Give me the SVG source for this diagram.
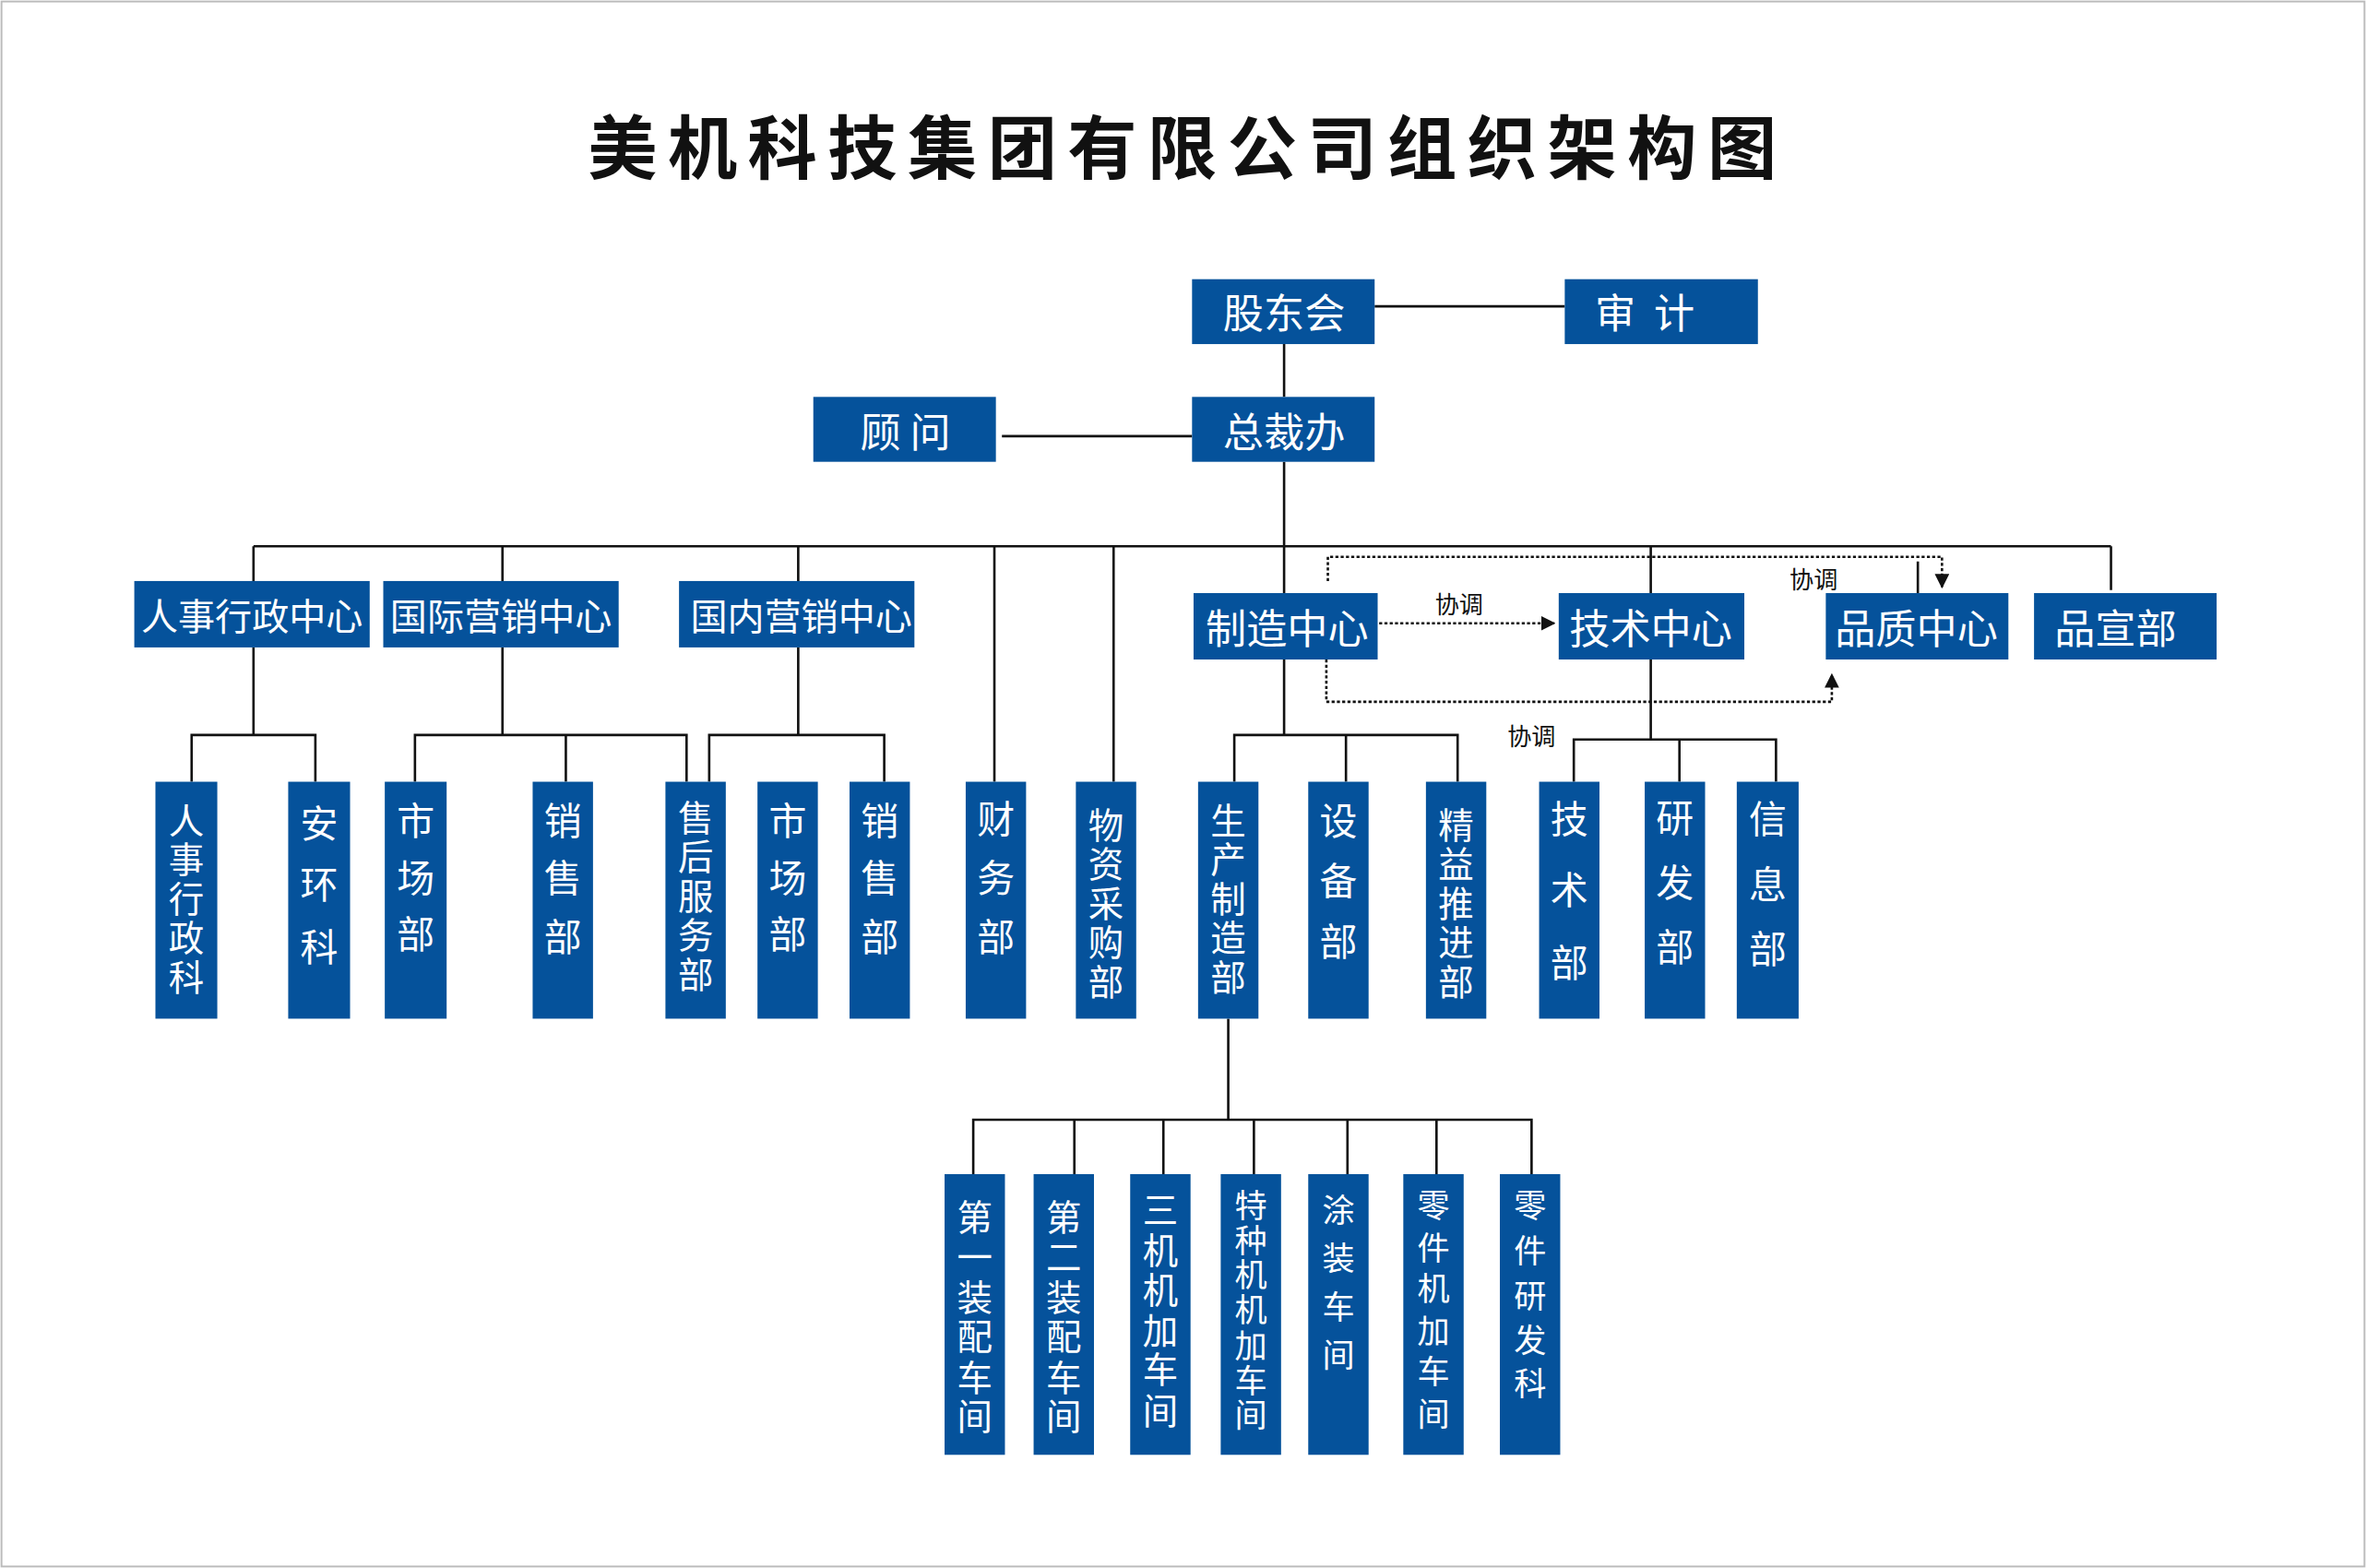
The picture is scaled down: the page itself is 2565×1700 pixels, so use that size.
<svg xmlns="http://www.w3.org/2000/svg" width="2565" height="1700" viewBox="0 0 2565 1700">
<style>
.b{fill:#05529b}
.t{fill:#fff;font-family:"Noto Sans CJK SC",sans-serif;font-size:27px;text-anchor:middle;dominant-baseline:central}
.c{font-size:24.5px}
.v{fill:#fff;font-family:"Noto Sans CJK SC",sans-serif;font-size:25px;text-anchor:middle;dominant-baseline:central}
.f{font-size:23.5px}
.s{font-size:21.5px}
.l{stroke:#111;stroke-width:1.6;fill:none}
.d{stroke:#111;stroke-width:1.6;fill:none;stroke-dasharray:2 1.5}
.k{fill:#111;font-family:"Noto Sans CJK SC",sans-serif;font-size:16px;text-anchor:middle;dominant-baseline:central}
</style>
<defs><marker id="a" viewBox="0 0 10 10" refX="9" refY="5" markerWidth="6" markerHeight="6" orient="auto"><path d="M0,0L10,5L0,10z" fill="#111"/></marker></defs>
<rect width="2565" height="1700" fill="#fff"/>
<g transform="scale(1.63584 1.63619)">
<rect x="1" y="1" width="1566" height="1037" fill="none" stroke="#bbb" stroke-width="1.2"/>
<text x="787" y="95" style="font-family:'Noto Sans CJK SC',sans-serif;font-size:46px;font-weight:bold;text-anchor:middle;dominant-baseline:central;letter-spacing:7px" fill="#111">美机科技集团有限公司组织架构图</text>
<g id="connectors">
<path class="l" d="M911,203H1037M851,228V263M664,289H790M851,306V393M168,362H1399M168,362V385M333,362V385M529,362V385M659,362V518M738,362V518M1094,362V393M1399,362V391M1271,372V393"/>
<path class="l" d="M168,429V487M127,518V487H209V518M333,429V487M275,518V487H455V518M375,487V518M529,429V487M470,518V487H586V518"/>
<path class="l" d="M851,437V487M818,518V487H966V518M892,487V518M1094,437V490M1043,518V490H1177V518M1113,490V518"/>
<path class="l" d="M814,675V742M645,778V742H1015V778M712,742V778M771,742V778M831,742V778M893,742V778M952,742V778"/>
<path class="d" d="M880,385V369H1287V389" marker-end="url(#a)"/>
<path class="d" d="M914,413H1030" marker-end="url(#a)"/>
<path class="d" d="M879,437V465H1214V447" marker-end="url(#a)"/>
<text class="k" x="967" y="400">协调</text><text class="k" x="1202" y="383">协调</text><text class="k" x="1015" y="487">协调</text>
</g>
<g id="n1"><rect class="b" x="790" y="185" width="121" height="43"/><text class="t" x="851" y="206">股东会</text></g>
<g id="n2"><rect class="b" x="1037" y="185" width="128" height="43"/><text class="t" x="1090" y="206" xml:space="preserve">审  计</text></g>
<g id="n3"><rect class="b" x="790" y="263" width="121" height="43"/><text class="t" x="851" y="285">总裁办</text></g>
<g id="n4"><rect class="b" x="539" y="263" width="121" height="43"/><text class="t" x="600" y="285" xml:space="preserve">顾 问</text></g>
<g id="n5"><rect class="b" x="89" y="385" width="156" height="44"/><text class="t c" x="167" y="407">人事行政中心</text></g>
<g id="n6"><rect class="b" x="254" y="385" width="156" height="44"/><text class="t c" x="332" y="407">国际营销中心</text></g>
<g id="n7"><rect class="b" x="450" y="385" width="156" height="44"/><text class="t c" x="531" y="407">国内营销中心</text></g>
<g id="n8"><rect class="b" x="791" y="393" width="122" height="44"/><text class="t" x="853" y="415">制造中心</text></g>
<g id="n9"><rect class="b" x="1033" y="393" width="123" height="44"/><text class="t" x="1094" y="415">技术中心</text></g>
<g id="n10"><rect class="b" x="1210" y="393" width="121" height="44"/><text class="t" x="1270" y="415">品质中心</text></g>
<g id="n11"><rect class="b" x="1348" y="393" width="121" height="44"/><text class="t" x="1402" y="415">品宣部</text></g>
<g id="r1"><rect class="b" x="103" y="518" width="41" height="157"/><text class="v f"><tspan x="123.5" y="542">人</tspan><tspan x="123.5" y="568">事</tspan><tspan x="123.5" y="594">行</tspan><tspan x="123.5" y="620">政</tspan><tspan x="123.5" y="646">科</tspan></text></g>
<g id="r2"><rect class="b" x="191" y="518" width="41" height="157"/><text class="v"><tspan x="211.5" y="544">安</tspan><tspan x="211.5" y="584">环</tspan><tspan x="211.5" y="626">科</tspan></text></g>
<g id="r3"><rect class="b" x="255" y="518" width="41" height="157"/><text class="v"><tspan x="275.5" y="542">市</tspan><tspan x="275.5" y="580">场</tspan><tspan x="275.5" y="617">部</tspan></text></g>
<g id="r4"><rect class="b" x="353" y="518" width="40" height="157"/><text class="v"><tspan x="373" y="542">销</tspan><tspan x="373" y="580">售</tspan><tspan x="373" y="619">部</tspan></text></g>
<g id="r5"><rect class="b" x="441" y="518" width="40" height="157"/><text class="v f"><tspan x="461" y="540">售</tspan><tspan x="461" y="566">后</tspan><tspan x="461" y="592">服</tspan><tspan x="461" y="618">务</tspan><tspan x="461" y="644">部</tspan></text></g>
<g id="r6"><rect class="b" x="502" y="518" width="40" height="157"/><text class="v"><tspan x="522" y="542">市</tspan><tspan x="522" y="580">场</tspan><tspan x="522" y="617">部</tspan></text></g>
<g id="r7"><rect class="b" x="563" y="518" width="40" height="157"/><text class="v"><tspan x="583" y="542">销</tspan><tspan x="583" y="580">售</tspan><tspan x="583" y="619">部</tspan></text></g>
<g id="r8"><rect class="b" x="640" y="518" width="40" height="157"/><text class="v"><tspan x="660" y="541">财</tspan><tspan x="660" y="580">务</tspan><tspan x="660" y="619">部</tspan></text></g>
<g id="r9"><rect class="b" x="713" y="518" width="40" height="157"/><text class="v f"><tspan x="733" y="545">物</tspan><tspan x="733" y="571">资</tspan><tspan x="733" y="597">采</tspan><tspan x="733" y="623">购</tspan><tspan x="733" y="649">部</tspan></text></g>
<g id="r10"><rect class="b" x="794" y="518" width="40" height="157"/><text class="v f"><tspan x="814" y="542">生</tspan><tspan x="814" y="568">产</tspan><tspan x="814" y="594">制</tspan><tspan x="814" y="620">造</tspan><tspan x="814" y="646">部</tspan></text></g>
<g id="r11"><rect class="b" x="867" y="518" width="40" height="157"/><text class="v"><tspan x="887" y="542">设</tspan><tspan x="887" y="582">备</tspan><tspan x="887" y="622">部</tspan></text></g>
<g id="r12"><rect class="b" x="945" y="518" width="40" height="157"/><text class="v f"><tspan x="965" y="545">精</tspan><tspan x="965" y="571">益</tspan><tspan x="965" y="597">推</tspan><tspan x="965" y="623">进</tspan><tspan x="965" y="649">部</tspan></text></g>
<g id="r13"><rect class="b" x="1020" y="518" width="40" height="157"/><text class="v"><tspan x="1040" y="541">技</tspan><tspan x="1040" y="588">术</tspan><tspan x="1040" y="636">部</tspan></text></g>
<g id="r14"><rect class="b" x="1090" y="518" width="40" height="157"/><text class="v"><tspan x="1110" y="540">研</tspan><tspan x="1110" y="583">发</tspan><tspan x="1110" y="626">部</tspan></text></g>
<g id="r15"><rect class="b" x="1151" y="518" width="41" height="157"/><text class="v"><tspan x="1171.5" y="541">信</tspan><tspan x="1171.5" y="584">息</tspan><tspan x="1171.5" y="627">部</tspan></text></g>
<g id="w1"><rect class="b" x="626" y="778" width="40" height="186"/><text class="v f"><tspan x="646" y="805">第</tspan><tspan x="646" y="831">一</tspan><tspan x="646" y="858">装</tspan><tspan x="646" y="884">配</tspan><tspan x="646" y="911">车</tspan><tspan x="646" y="937">间</tspan></text></g>
<g id="w2"><rect class="b" x="685" y="778" width="40" height="186"/><text class="v f"><tspan x="705" y="805">第</tspan><tspan x="705" y="831">二</tspan><tspan x="705" y="858">装</tspan><tspan x="705" y="884">配</tspan><tspan x="705" y="911">车</tspan><tspan x="705" y="937">间</tspan></text></g>
<g id="w3"><rect class="b" x="749" y="778" width="40" height="186"/><text class="v f"><tspan x="769" y="800">三</tspan><tspan x="769" y="827">机</tspan><tspan x="769" y="853">机</tspan><tspan x="769" y="880">加</tspan><tspan x="769" y="906">车</tspan><tspan x="769" y="933">间</tspan></text></g>
<g id="w4"><rect class="b" x="809" y="778" width="40" height="186"/><text class="v s"><tspan x="829" y="797">特</tspan><tspan x="829" y="820">种</tspan><tspan x="829" y="843">机</tspan><tspan x="829" y="866">机</tspan><tspan x="829" y="890">加</tspan><tspan x="829" y="913">车</tspan><tspan x="829" y="936">间</tspan></text></g>
<g id="w5"><rect class="b" x="867" y="778" width="40" height="186"/><text class="v s"><tspan x="887" y="800">涂</tspan><tspan x="887" y="832">装</tspan><tspan x="887" y="864">车</tspan><tspan x="887" y="896">间</tspan></text></g>
<g id="w6"><rect class="b" x="930" y="778" width="40" height="186"/><text class="v s"><tspan x="950" y="797">零</tspan><tspan x="950" y="825">件</tspan><tspan x="950" y="852">机</tspan><tspan x="950" y="880">加</tspan><tspan x="950" y="907">车</tspan><tspan x="950" y="935">间</tspan></text></g>
<g id="w7"><rect class="b" x="994" y="778" width="40" height="186"/><text class="v s"><tspan x="1014" y="797">零</tspan><tspan x="1014" y="827">件</tspan><tspan x="1014" y="857">研</tspan><tspan x="1014" y="886">发</tspan><tspan x="1014" y="915">科</tspan></text></g>
</g>
</svg>
